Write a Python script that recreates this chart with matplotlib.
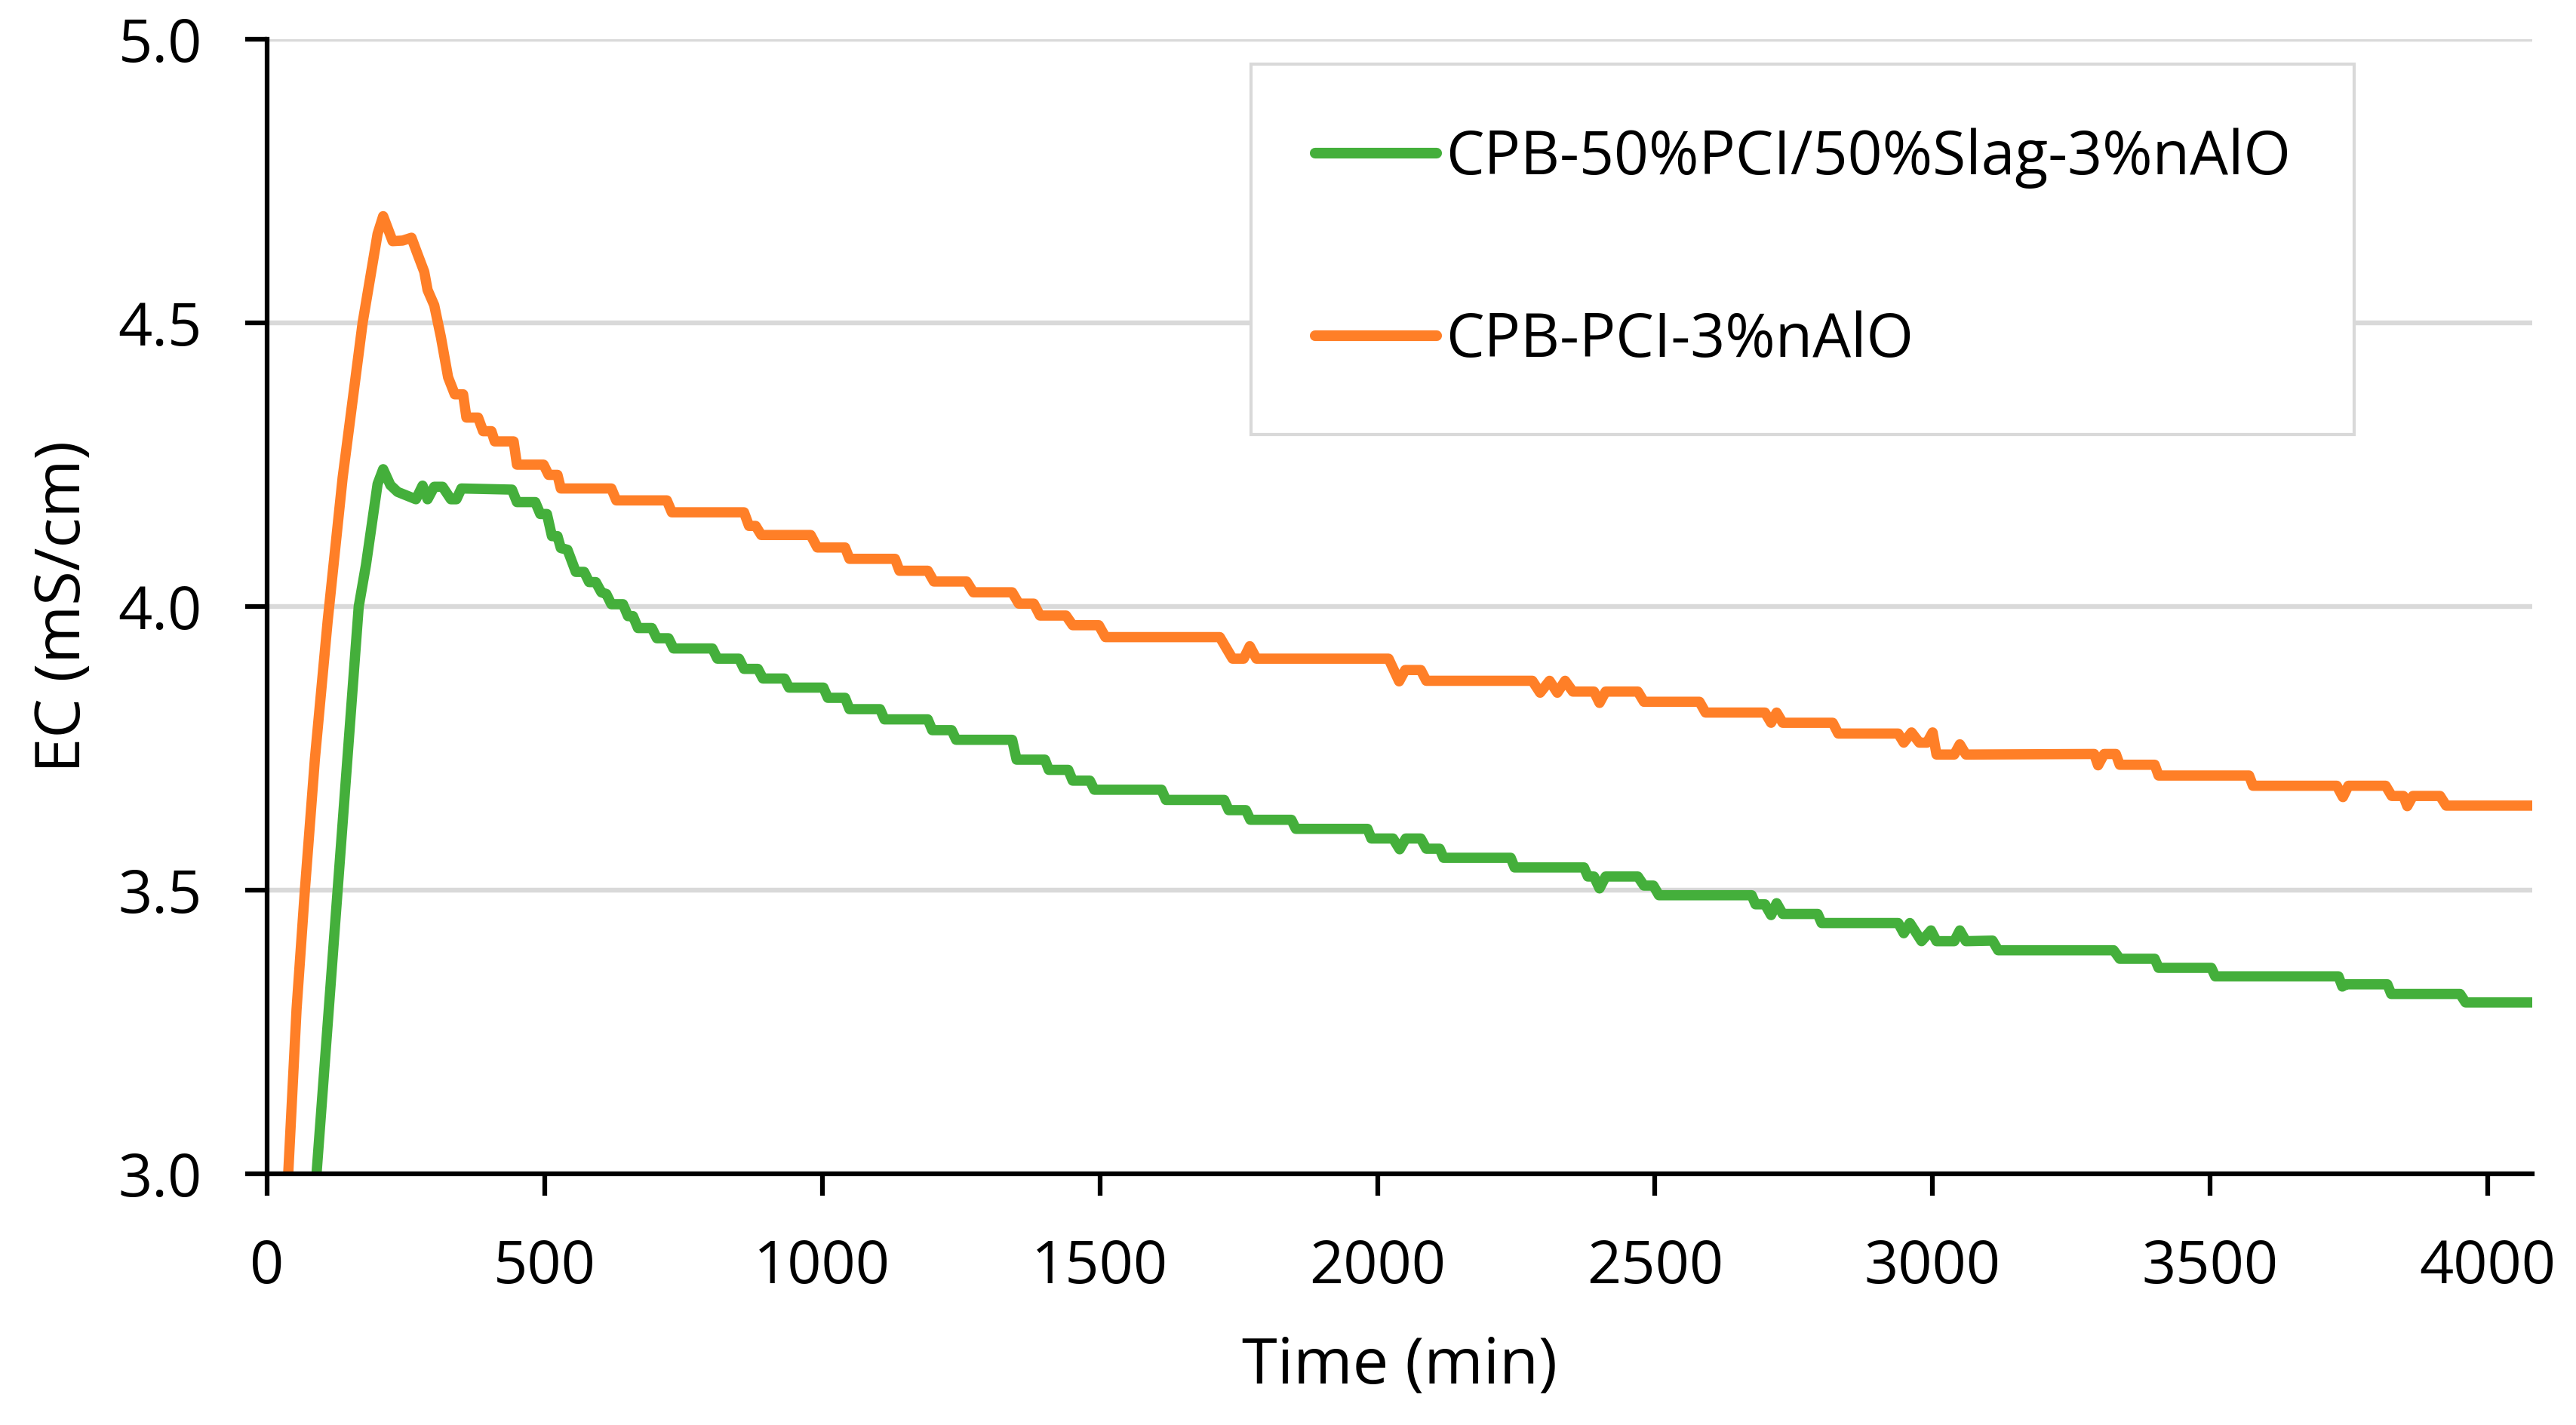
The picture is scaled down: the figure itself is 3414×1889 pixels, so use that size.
import matplotlib
matplotlib.use("Agg")
import matplotlib.pyplot as plt

plt.rcParams['font.family'] = ['Open Sans', 'DejaVu Sans']

# EC readings (mS/cm) against time (min)
t_slag = [80, 89, 127, 165, 178, 199, 209, 222, 235, 268, 280, 289, 301, 316,
          331, 341, 350, 441, 450, 483, 492, 504, 513, 523, 529, 541, 556, 571, 580,
          592, 602, 611, 620, 641, 650, 659, 668, 693, 702, 723, 732, 802, 811, 850,
          859, 884, 893, 932, 940, 1002, 1010, 1041, 1049, 1104, 1112, 1190, 1198,
          1233, 1241, 1342, 1350, 1401, 1408, 1443, 1451, 1482, 1490, 1611, 1619,
          1724, 1732, 1763, 1771, 1845, 1853, 1982, 1989, 2028, 2040, 2051, 2078,
          2088, 2112, 2119, 2240, 2247, 2372, 2379, 2390, 2400, 2411, 2469, 2480,
          2497, 2507, 2674, 2681, 2698, 2709, 2719, 2730, 2793, 2800, 2938, 2948,
          2959, 2980, 2997, 3007, 3039, 3049, 3060, 3108, 3118, 3326, 3337, 3400,
          3407, 3502, 3509, 3731, 3738, 3745, 3819, 3826, 3950, 3960, 4080]
ec_slag = [2.87, 3.00, 3.50, 4.00, 4.073, 4.216, 4.242, 4.214, 4.202, 4.189,
           4.213, 4.189, 4.211, 4.211, 4.189, 4.189, 4.208, 4.206, 4.184, 4.184, 4.163,
           4.163, 4.124, 4.124, 4.103, 4.100, 4.061, 4.061, 4.043, 4.043, 4.025, 4.022,
           4.004, 4.004, 3.983, 3.983, 3.962, 3.962, 3.944, 3.944, 3.926, 3.926, 3.908,
           3.908, 3.890, 3.890, 3.873, 3.873, 3.857, 3.857, 3.839, 3.839, 3.819, 3.819,
           3.801, 3.801, 3.782, 3.782, 3.765, 3.765, 3.730, 3.730, 3.712, 3.712, 3.693,
           3.693, 3.677, 3.677, 3.659, 3.659, 3.641, 3.641, 3.624, 3.624, 3.608, 3.608,
           3.591, 3.591, 3.572, 3.591, 3.591, 3.573, 3.573, 3.557, 3.557, 3.540, 3.540,
           3.524, 3.524, 3.503, 3.524, 3.524, 3.508, 3.508, 3.491, 3.491, 3.475, 3.475,
           3.456, 3.477, 3.458, 3.458, 3.442, 3.442, 3.424, 3.442, 3.410, 3.429, 3.410,
           3.410, 3.429, 3.410, 3.411, 3.394, 3.394, 3.379, 3.379, 3.363, 3.363, 3.348,
           3.348, 3.330, 3.334, 3.334, 3.317, 3.317, 3.302, 3.302]

t_pci = [30, 38, 53, 68, 86, 109, 136, 172, 199, 209, 226, 244, 260, 271,
         283, 289, 301, 313, 326, 338, 353, 359, 380, 389, 404, 410, 444, 450, 498,
         507, 523, 529, 620, 629, 720, 729, 859, 868, 880, 890, 979, 991, 1041, 1049,
         1131, 1139, 1190, 1201, 1260, 1272, 1342, 1354, 1381, 1392, 1439, 1451, 1498,
         1510, 1716, 1739, 1759, 1770, 1782, 2020, 2039, 2050, 2078, 2088, 2279, 2293,
         2310, 2324, 2338, 2352, 2390, 2400, 2411, 2469, 2480, 2580, 2591, 2698, 2709,
         2719, 2730, 2820, 2830, 2938, 2948, 2962, 2976, 2990, 3000, 3007, 3039, 3049,
         3060, 3291, 3298, 3309, 3330, 3337, 3400, 3407, 3570, 3577, 3728, 3739, 3749,
         3816, 3827, 3848, 3855, 3865, 3914, 3925, 4080]
ec_pci = [2.85, 3.00, 3.29, 3.50, 3.731, 3.974, 4.227, 4.50, 4.657, 4.688, 4.644,
          4.645, 4.650, 4.621, 4.590, 4.558, 4.531, 4.475, 4.404, 4.374, 4.374, 4.333,
          4.333, 4.309, 4.309, 4.291, 4.291, 4.250, 4.250, 4.232, 4.232, 4.208, 4.208,
          4.187, 4.187, 4.166, 4.166, 4.142, 4.142, 4.126, 4.126, 4.104, 4.104, 4.084,
          4.084, 4.063, 4.063, 4.044, 4.044, 4.025, 4.025, 4.005, 4.005, 3.984, 3.984,
          3.967, 3.967, 3.946, 3.946, 3.908, 3.908, 3.930, 3.908, 3.908, 3.868, 3.888,
          3.888, 3.869, 3.869, 3.848, 3.869, 3.848, 3.869, 3.850, 3.850, 3.830, 3.850,
          3.850, 3.832, 3.832, 3.813, 3.813, 3.795, 3.813, 3.795, 3.795, 3.776, 3.776,
          3.760, 3.778, 3.760, 3.760, 3.778, 3.739, 3.739, 3.757, 3.739, 3.740, 3.720,
          3.740, 3.740, 3.721, 3.721, 3.702, 3.702, 3.684, 3.684, 3.664, 3.684, 3.684,
          3.666, 3.666, 3.648, 3.666, 3.666, 3.649, 3.649]

labels = ['CPB-50%PCI/50%Slag-3%nAlO', 'CPB-PCI-3%nAlO']
colors = ['#44AF3B', '#FF7F27']

x_ticks = [0, 500, 1000, 1500, 2000, 2500, 3000, 3500, 4000]
y_ticks = [3.0, 3.5, 4.0, 4.5, 5.0]

FS = 57


def main():
    fig = plt.figure(figsize=(34.14, 18.89), dpi=100)
    ax = fig.add_axes([0.1037, 0.1763, 0.8793, 0.7962])

    ax.plot(t_slag, ec_slag, color=colors[0], lw=9.8, label=labels[0],
            solid_joinstyle='round', solid_capstyle='round')
    ax.plot(t_pci, ec_pci, color=colors[1], lw=9.8, label=labels[1],
            solid_joinstyle='round', solid_capstyle='round')

    ax.set_xlim(0, 4080)
    ax.set_ylim(3.0, 5.0)
    ax.set_xticks(x_ticks)
    ax.set_yticks(y_ticks)
    ax.set_yticklabels([f'{v:.1f}' for v in y_ticks])

    ax.grid(axis='y', color='#d9d9d9', lw=4.6)
    ax.set_axisbelow(True)
    for side in ['top', 'right']:
        ax.spines[side].set_visible(False)
    for side in ['left', 'bottom']:
        ax.spines[side].set_linewidth(4.5)
        ax.spines[side].set_color('black')

    ax.tick_params(axis='both', labelsize=FS, length=21, width=4.5, direction='out')
    ax.tick_params(axis='x', pad=40)
    ax.tick_params(axis='y', pad=41)

    ax.set_xlabel('Time (min)', fontsize=61, labelpad=36)
    ax.set_ylabel('EC (mS/cm)', fontsize=60, labelpad=22)

    leg = ax.legend(loc='upper left', bbox_to_anchor=(1658 / 3414, 1 - 85 / 1889),
                    bbox_transform=fig.transFigure, borderaxespad=0, fontsize=58,
                    handlelength=2.0, handletextpad=0.15, labelspacing=2.0,
                    borderpad=1.05, fancybox=False, framealpha=1)
    leg.get_frame().set_edgecolor('#d9d9d9')
    leg.get_frame().set_linewidth(3)
    for line in leg.get_lines():
        line.set_linewidth(10.2)
        line.set_solid_capstyle('round')

    fig.savefig('out.png', dpi=100)


if __name__ == "__main__":
    main()
